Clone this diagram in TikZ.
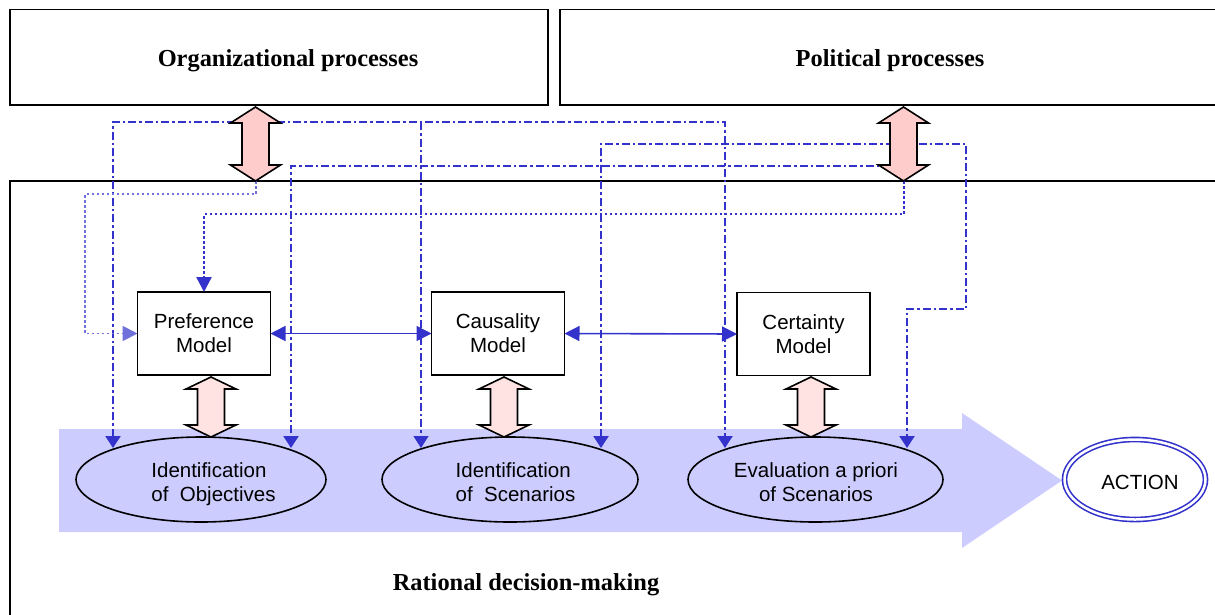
\documentclass[tikz,border=0pt]{standalone}
\usepackage{fontspec}
\setmainfont{Liberation Serif}
\setsansfont{Liberation Sans}
\usetikzlibrary{arrows.meta,shapes.geometric}
\definecolor{lnblue}{HTML}{3333CC}
\definecolor{pinkA}{HTML}{FFCCCC}
\definecolor{pinkB}{HTML}{FFE2E2}
\definecolor{lav}{HTML}{CCCCFF}
\newcommand\DblArr[5]{% cx, ytop, ybot, headlen, fill
  \draw[line width=1.6pt, line join=miter, fill=#5]
    (#1,#2) -- ({#1+25},{#2+#4}) -- ({#1+13.5},{#2+#4}) -- ({#1+13.5},{#3-#4})
    -- ({#1+25},{#3-#4}) -- (#1,#3) -- ({#1-25},{#3-#4}) -- ({#1-13.5},{#3-#4})
    -- ({#1-13.5},{#2+#4}) -- ({#1-25},{#2+#4}) -- cycle;}
\begin{document}
\begin{tikzpicture}[x=1pt,y=-1pt,
  frame/.style={draw=black, line width=1.9pt, rectangle, anchor=north west, inner sep=0pt, outer sep=0pt},
  title/.style={font=\fontsize{24.4}{29}\selectfont\bfseries, anchor=base, inner sep=0pt},
  lbl/.style={font=\sffamily\fontsize{20.5}{24}\selectfont, inner sep=0pt},
  modelbox/.style={draw=black, line width=1.6pt, fill=white, minimum width=133pt, minimum height=83pt, inner sep=0pt, outer sep=0pt, align=center, lbl},
  phase/.style={ellipse, draw=black, line width=1.6pt, fill=lav, minimum height=85pt, inner sep=0pt, outer sep=0pt},
  tri/.tip={Triangle[length=12pt,width=15pt]},
  bigtri/.tip={Triangle[length=15pt,width=15pt]},
  ddline/.style={draw=lnblue, line width=2.3pt, dash pattern=on 8pt off 3pt on 2.5pt off 3pt},
  ddthin/.style={draw=lnblue, line width=1.2pt, dash pattern=on 8pt off 3pt on 2.5pt off 3pt},
  dotline/.style={draw=lnblue, line width=2.4pt, dash pattern=on 2.5pt off 2.5pt},
  dotlight/.style={draw=lnblue!70, line width=1.9pt, dash pattern=on 2.5pt off 2.5pt},
  link/.style={draw=lnblue, line width=1.6pt, bigtri-bigtri},
]
\useasboundingbox (0,0) rectangle (1215,614);

% frames
\node[frame, minimum width=538pt, minimum height=95.5pt] (org) at (10,9.5) {};
\node[frame, minimum width=680pt, minimum height=95.5pt] (pol) at (560,9.5) {};
\node[frame, minimum width=1230pt, minimum height=460pt] (main) at (10,181) {};
\node[title] (orgT) at (288,66) {Organizational processes};
\node[title] (polT) at (890,66) {Political processes};
\node[title] (ratT) at (526,590) {Rational decision-making};

% big process arrow
\fill[lav] (59,429) -- (962,429) -- (962,413) -- (1062,480.5) -- (962,548) -- (962,532) -- (59,532) -- cycle;

% phases
\node[phase, minimum width=250pt] (obj) at (201,479.5) {};
\node[phase, minimum width=256pt] (scen) at (510,479.5) {};
\node[phase, minimum width=255pt] (eval) at (815.5,479.5) {};
\node[lbl, align=left] (objT) at (213.5,484.5) {Identification\\of~~Objectives};
\node[lbl, align=left] (scenT) at (515.5,482.5) {Identification\\of~~Scenarios};
\node[lbl, align=center] (evalT) at (816,482.5) {Evaluation a priori\\of Scenarios};
\node[ellipse, draw=lnblue, double=white, double distance=2.5pt, line width=1.6pt,
      minimum width=141pt, minimum height=80pt, inner sep=0pt] (action) at (1135,479.5) {};
\node[lbl] (actT) at (1140,482.5) {ACTION};

% models
\node[modelbox] (pref) at (204,333.5) {Preference\\Model};
\node[modelbox] (caus) at (498,333.5) {Causality\\Model};
\node[modelbox] (cert) at (803.5,334) {Certainty\\Model};

% end points of the influence lines
\coordinate (e1) at (113,448);
\coordinate (e2) at (291,448);
\coordinate (e3) at (421,448);
\coordinate (e4) at (601,448);
\coordinate (e5) at (725,448);
\coordinate (e6) at (907,448);
\coordinate (orgB) at (256,181);
\coordinate (polB) at (904,181);
\coordinate (polL) at (890,166);

% influence lines
\draw[ddline, tri-tri] (e1) -- (113,122) -- (725,122) -- (e5);
\draw[ddthin, -tri] (421,122) -- (e3);
\draw[ddline, -tri] (polL) -- (291,166) -- (e2);
\draw[ddline, tri-tri] (e4) -- (601,144) -- (966,144) -- (966,309) -- (907,309) -- (e6);
\draw[dotlight, -bigtri] (orgB) -- (256,194) -- (85,194) -- (85,333.5) -- (pref.west);
\draw[dotline, -bigtri] (polB) -- (904,214) -- (pref.north |- 0,214) -- (pref.north);

% model links
\draw[link] (pref.east) -- (caus.west);
\draw[link] (caus.east) -- (cert.west);

% double arrows
\DblArr{255.5}{107}{181}{16}{pinkA}
\DblArr{903.5}{107}{181}{16}{pinkA}
\DblArr{211}{377}{437}{12}{pinkB}
\DblArr{504}{377}{437}{12}{pinkB}
\DblArr{811}{377}{437}{12}{pinkB}
\end{tikzpicture}
\end{document}
